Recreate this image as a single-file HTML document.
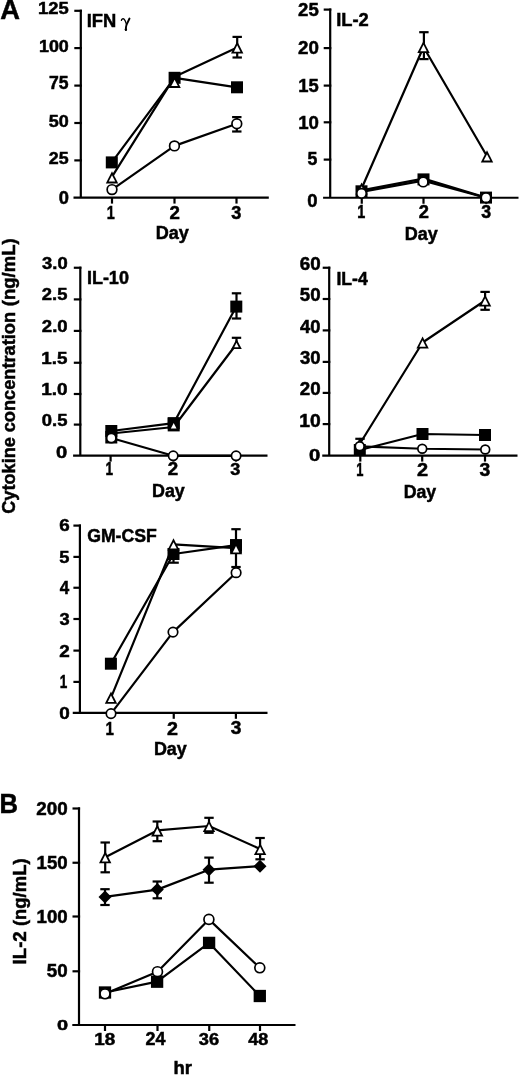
<!DOCTYPE html>
<html><head><meta charset="utf-8"><style>
html,body{margin:0;padding:0;background:#fff;}
svg{display:block;will-change:transform;}
text{fill:#000;stroke:#000;stroke-width:0.5px;}
</style></head><body>
<svg width="520" height="1076" viewBox="0 0 520 1076">
<rect width="520" height="1076" fill="#fff"/>
<text x="0.22" y="19.40" font-size="27.47" font-weight="bold" font-style="normal" font-family='"Liberation Sans", sans-serif' textLength="19.70" lengthAdjust="spacingAndGlyphs">A</text>
<line x1="80.80" y1="9.70" x2="80.80" y2="197.60" stroke="#000" stroke-width="2.2"/><line x1="73.50" y1="197.60" x2="268.80" y2="197.60" stroke="#000" stroke-width="2.2"/><line x1="74.30" y1="10.80" x2="81.90" y2="10.80" stroke="#000" stroke-width="2.2"/><line x1="74.30" y1="48.10" x2="81.90" y2="48.10" stroke="#000" stroke-width="2.2"/><line x1="74.30" y1="85.60" x2="81.90" y2="85.60" stroke="#000" stroke-width="2.2"/><line x1="74.30" y1="123.00" x2="81.90" y2="123.00" stroke="#000" stroke-width="2.2"/><line x1="74.30" y1="160.40" x2="81.90" y2="160.40" stroke="#000" stroke-width="2.2"/><line x1="112.00" y1="197.60" x2="112.00" y2="203.60" stroke="#000" stroke-width="2.2"/><line x1="174.50" y1="197.60" x2="174.50" y2="203.60" stroke="#000" stroke-width="2.2"/><line x1="236.50" y1="197.60" x2="236.50" y2="203.60" stroke="#000" stroke-width="2.2"/>
<text x="37.94" y="14.33" font-size="17.23" font-weight="bold" font-style="normal" font-family='"Liberation Sans", sans-serif' textLength="30.67" lengthAdjust="spacingAndGlyphs">125</text>
<text x="38.97" y="51.63" font-size="17.23" font-weight="bold" font-style="normal" font-family='"Liberation Sans", sans-serif' textLength="29.86" lengthAdjust="spacingAndGlyphs">100</text>
<text x="49.05" y="89.43" font-size="17.48" font-weight="bold" font-style="normal" font-family='"Liberation Sans", sans-serif' textLength="19.54" lengthAdjust="spacingAndGlyphs">75</text>
<text x="48.85" y="126.63" font-size="17.23" font-weight="bold" font-style="normal" font-family='"Liberation Sans", sans-serif' textLength="19.99" lengthAdjust="spacingAndGlyphs">50</text>
<text x="48.78" y="164.13" font-size="17.23" font-weight="bold" font-style="normal" font-family='"Liberation Sans", sans-serif' textLength="19.81" lengthAdjust="spacingAndGlyphs">25</text>
<text x="58.68" y="203.53" font-size="17.51" font-weight="bold" font-style="normal" font-family='"Liberation Sans", sans-serif' textLength="10.17" lengthAdjust="spacingAndGlyphs">0</text>
<text x="106.74" y="219.00" font-size="18.60" font-weight="bold" font-style="normal" font-family='"Liberation Sans", sans-serif' textLength="8.01" lengthAdjust="spacingAndGlyphs">1</text>
<text x="169.45" y="219.00" font-size="18.33" font-weight="bold" font-style="normal" font-family='"Liberation Sans", sans-serif' textLength="10.40" lengthAdjust="spacingAndGlyphs">2</text>
<text x="231.38" y="218.80" font-size="18.04" font-weight="bold" font-style="normal" font-family='"Liberation Sans", sans-serif' textLength="10.07" lengthAdjust="spacingAndGlyphs">3</text>
<text x="155.79" y="238.85" font-size="18.09" font-weight="bold" font-style="normal" font-family='"Liberation Sans", sans-serif' textLength="33.10" lengthAdjust="spacingAndGlyphs">Day</text>
<text x="86.67" y="26.60" font-size="18.60" font-weight="bold" font-style="normal" font-family='"Liberation Sans", sans-serif' textLength="29.56" lengthAdjust="spacingAndGlyphs">IFN</text>
<path d="M121.4,20.4 C121.6,18.9 123.1,18.2 124.2,19.2 C125.2,20.2 125.9,22.3 126.5,24.4" fill="none" stroke="#000" stroke-width="1.3" stroke-linecap="round"/>
<path d="M129.5,18.5 L126.6,24.6 C126.1,26.3 125.7,28.2 125.8,29.8" fill="none" stroke="#000" stroke-width="1.9" stroke-linecap="round"/>
<ellipse cx="125.9" cy="29.4" rx="1.15" ry="1.5" fill="#000"/>
<polyline points="111.80,162.40 174.60,77.80 237.00,87.30" fill="none" stroke="#000" stroke-width="2.2" stroke-linejoin="round"/>
<polyline points="111.60,177.30 174.60,76.80 237.20,47.40" fill="none" stroke="#000" stroke-width="2.2" stroke-linejoin="round"/>
<polyline points="112.00,189.60 174.45,145.90 236.80,123.80" fill="none" stroke="#000" stroke-width="2.2" stroke-linejoin="round"/>
<line x1="237.20" y1="36.90" x2="237.20" y2="57.50" stroke="#000" stroke-width="2.2"/><line x1="232.50" y1="36.90" x2="241.90" y2="36.90" stroke="#000" stroke-width="2.2"/><line x1="232.50" y1="57.50" x2="241.90" y2="57.50" stroke="#000" stroke-width="2.2"/>
<line x1="236.80" y1="117.10" x2="236.80" y2="131.50" stroke="#000" stroke-width="2.2"/><line x1="232.10" y1="117.10" x2="241.50" y2="117.10" stroke="#000" stroke-width="2.2"/><line x1="232.10" y1="131.50" x2="241.50" y2="131.50" stroke="#000" stroke-width="2.2"/>
<rect x="105.80" y="156.40" width="12.00" height="12.00" fill="#000"/>
<rect x="168.60" y="71.80" width="12.00" height="12.00" fill="#000"/>
<rect x="231.00" y="81.30" width="12.00" height="12.00" fill="#000"/>
<polygon points="112.00,171.20 118.20,183.40 105.80,183.40" fill="#000"/><polygon points="112.00,175.17 115.27,181.60 108.73,181.60" fill="#fff"/>
<polygon points="174.60,75.70 180.80,87.90 168.40,87.90" fill="#000"/><polygon points="174.60,79.67 177.87,86.10 171.33,86.10" fill="#fff"/>
<polygon points="237.20,41.30 243.40,53.50 231.00,53.50" fill="#000"/><polygon points="237.20,45.27 240.47,51.70 233.93,51.70" fill="#fff"/>
<circle cx="112.00" cy="189.60" r="4.85" fill="#fff" stroke="#000" stroke-width="1.7"/>
<circle cx="174.45" cy="145.90" r="4.85" fill="#fff" stroke="#000" stroke-width="1.7"/>
<circle cx="236.80" cy="123.80" r="4.85" fill="#fff" stroke="#000" stroke-width="1.7"/>
<line x1="330.20" y1="8.50" x2="330.20" y2="197.75" stroke="#000" stroke-width="2.2"/><line x1="323.10" y1="197.75" x2="518.50" y2="197.75" stroke="#000" stroke-width="2.2"/><line x1="323.70" y1="9.60" x2="331.30" y2="9.60" stroke="#000" stroke-width="2.2"/><line x1="323.70" y1="48.10" x2="331.30" y2="48.10" stroke="#000" stroke-width="2.2"/><line x1="323.70" y1="85.60" x2="331.30" y2="85.60" stroke="#000" stroke-width="2.2"/><line x1="323.70" y1="122.30" x2="331.30" y2="122.30" stroke="#000" stroke-width="2.2"/><line x1="323.70" y1="159.60" x2="331.30" y2="159.60" stroke="#000" stroke-width="2.2"/><line x1="361.75" y1="197.75" x2="361.75" y2="203.75" stroke="#000" stroke-width="2.2"/><line x1="423.50" y1="197.75" x2="423.50" y2="203.75" stroke="#000" stroke-width="2.2"/><line x1="486.25" y1="197.75" x2="486.25" y2="203.75" stroke="#000" stroke-width="2.2"/>
<text x="298.06" y="15.87" font-size="18.79" font-weight="bold" font-style="normal" font-family='"Liberation Sans", sans-serif' textLength="20.66" lengthAdjust="spacingAndGlyphs">25</text>
<text x="298.10" y="54.37" font-size="18.79" font-weight="bold" font-style="normal" font-family='"Liberation Sans", sans-serif' textLength="20.87" lengthAdjust="spacingAndGlyphs">20</text>
<text x="298.24" y="91.86" font-size="19.06" font-weight="bold" font-style="normal" font-family='"Liberation Sans", sans-serif' textLength="20.47" lengthAdjust="spacingAndGlyphs">15</text>
<text x="298.23" y="128.57" font-size="18.79" font-weight="bold" font-style="normal" font-family='"Liberation Sans", sans-serif' textLength="20.74" lengthAdjust="spacingAndGlyphs">10</text>
<text x="307.56" y="165.43" font-size="17.91" font-weight="bold" font-style="normal" font-family='"Liberation Sans", sans-serif' textLength="9.84" lengthAdjust="spacingAndGlyphs">5</text>
<text x="307.37" y="207.32" font-size="18.50" font-weight="bold" font-style="normal" font-family='"Liberation Sans", sans-serif' textLength="10.29" lengthAdjust="spacingAndGlyphs">0</text>
<text x="357.24" y="217.90" font-size="18.02" font-weight="bold" font-style="normal" font-family='"Liberation Sans", sans-serif' textLength="8.01" lengthAdjust="spacingAndGlyphs">1</text>
<text x="418.77" y="217.90" font-size="17.76" font-weight="bold" font-style="normal" font-family='"Liberation Sans", sans-serif' textLength="10.17" lengthAdjust="spacingAndGlyphs">2</text>
<text x="481.29" y="217.70" font-size="17.48" font-weight="bold" font-style="normal" font-family='"Liberation Sans", sans-serif' textLength="9.85" lengthAdjust="spacingAndGlyphs">3</text>
<text x="404.80" y="240.05" font-size="18.09" font-weight="bold" font-style="normal" font-family='"Liberation Sans", sans-serif' textLength="33.00" lengthAdjust="spacingAndGlyphs">Day</text>
<text x="336.17" y="26.20" font-size="18.19" font-weight="bold" font-style="normal" font-family='"Liberation Sans", sans-serif' textLength="32.56" lengthAdjust="spacingAndGlyphs">IL-2</text>
<polyline points="361.50,190.30 423.50,178.60 486.00,197.60" fill="none" stroke="#000" stroke-width="2.2" stroke-linejoin="round"/>
<polyline points="361.60,188.50 423.50,47.00 487.00,156.30" fill="none" stroke="#000" stroke-width="2.2" stroke-linejoin="round"/>
<polyline points="361.50,191.90 423.20,180.60 486.00,197.70" fill="none" stroke="#000" stroke-width="2.2" stroke-linejoin="round"/>
<line x1="423.90" y1="32.20" x2="423.90" y2="59.10" stroke="#000" stroke-width="2.2"/><line x1="419.20" y1="32.20" x2="428.60" y2="32.20" stroke="#000" stroke-width="2.2"/><line x1="419.20" y1="59.10" x2="428.60" y2="59.10" stroke="#000" stroke-width="2.2"/>
<rect x="355.50" y="185.30" width="12.00" height="12.00" fill="#000"/>
<rect x="417.50" y="173.40" width="12.00" height="12.00" fill="#000"/>
<rect x="480.00" y="191.60" width="12.00" height="12.00" fill="#000"/>
<polygon points="361.60,182.40 367.80,194.60 355.40,194.60" fill="#000"/><polygon points="361.60,186.37 364.87,192.80 358.33,192.80" fill="#fff"/>
<polygon points="423.50,40.90 429.70,53.10 417.30,53.10" fill="#000"/><polygon points="423.50,44.87 426.77,51.30 420.23,51.30" fill="#fff"/>
<polygon points="487.00,150.20 493.20,162.40 480.80,162.40" fill="#000"/><polygon points="487.00,154.17 490.27,160.60 483.73,160.60" fill="#fff"/>
<circle cx="361.50" cy="193.30" r="4.75" fill="#fff" stroke="#000" stroke-width="1.7"/>
<circle cx="423.20" cy="182.00" r="4.75" fill="#fff" stroke="#000" stroke-width="1.7"/>
<circle cx="486.00" cy="197.70" r="4.75" fill="#fff" stroke="#000" stroke-width="1.7"/>
<line x1="80.30" y1="266.65" x2="80.30" y2="455.60" stroke="#000" stroke-width="2.2"/><line x1="73.10" y1="455.60" x2="267.50" y2="455.60" stroke="#000" stroke-width="2.2"/><line x1="73.80" y1="267.75" x2="81.40" y2="267.75" stroke="#000" stroke-width="2.2"/><line x1="73.80" y1="299.40" x2="81.40" y2="299.40" stroke="#000" stroke-width="2.2"/><line x1="73.80" y1="330.90" x2="81.40" y2="330.90" stroke="#000" stroke-width="2.2"/><line x1="73.80" y1="362.75" x2="81.40" y2="362.75" stroke="#000" stroke-width="2.2"/><line x1="73.80" y1="394.00" x2="81.40" y2="394.00" stroke="#000" stroke-width="2.2"/><line x1="73.80" y1="424.60" x2="81.40" y2="424.60" stroke="#000" stroke-width="2.2"/><line x1="110.60" y1="455.60" x2="110.60" y2="461.60" stroke="#000" stroke-width="2.2"/><line x1="173.50" y1="455.60" x2="173.50" y2="461.60" stroke="#000" stroke-width="2.2"/><line x1="236.00" y1="455.60" x2="236.00" y2="461.60" stroke="#000" stroke-width="2.2"/>
<text x="42.08" y="268.76" font-size="16.63" font-weight="bold" font-style="normal" font-family='"Liberation Sans", sans-serif' textLength="25.58" lengthAdjust="spacingAndGlyphs">3.0</text>
<text x="41.86" y="300.44" font-size="16.67" font-weight="bold" font-style="normal" font-family='"Liberation Sans", sans-serif' textLength="25.55" lengthAdjust="spacingAndGlyphs">2.5</text>
<text x="41.86" y="331.94" font-size="16.67" font-weight="bold" font-style="normal" font-family='"Liberation Sans", sans-serif' textLength="25.80" lengthAdjust="spacingAndGlyphs">2.0</text>
<text x="41.32" y="363.78" font-size="16.91" font-weight="bold" font-style="normal" font-family='"Liberation Sans", sans-serif' textLength="26.11" lengthAdjust="spacingAndGlyphs">1.5</text>
<text x="41.31" y="395.04" font-size="16.67" font-weight="bold" font-style="normal" font-family='"Liberation Sans", sans-serif' textLength="26.37" lengthAdjust="spacingAndGlyphs">1.0</text>
<text x="41.77" y="425.64" font-size="16.67" font-weight="bold" font-style="normal" font-family='"Liberation Sans", sans-serif' textLength="25.64" lengthAdjust="spacingAndGlyphs">0.5</text>
<text x="56.10" y="458.33" font-size="17.30" font-weight="bold" font-style="normal" font-family='"Liberation Sans", sans-serif' textLength="11.23" lengthAdjust="spacingAndGlyphs">0</text>
<text x="105.40" y="475.30" font-size="17.88" font-weight="bold" font-style="normal" font-family='"Liberation Sans", sans-serif' textLength="7.53" lengthAdjust="spacingAndGlyphs">1</text>
<text x="167.65" y="475.30" font-size="17.62" font-weight="bold" font-style="normal" font-family='"Liberation Sans", sans-serif' textLength="10.40" lengthAdjust="spacingAndGlyphs">2</text>
<text x="230.33" y="475.11" font-size="17.34" font-weight="bold" font-style="normal" font-family='"Liberation Sans", sans-serif' textLength="10.07" lengthAdjust="spacingAndGlyphs">3</text>
<text x="152.00" y="496.68" font-size="18.43" font-weight="bold" font-style="normal" font-family='"Liberation Sans", sans-serif' textLength="32.79" lengthAdjust="spacingAndGlyphs">Day</text>
<text x="86.89" y="283.62" font-size="18.22" font-weight="bold" font-style="normal" font-family='"Liberation Sans", sans-serif' textLength="42.04" lengthAdjust="spacingAndGlyphs">IL-10</text>
<polyline points="111.30,431.00 173.70,423.20 236.30,306.60" fill="none" stroke="#000" stroke-width="2.2" stroke-linejoin="round"/>
<polyline points="111.30,433.50 173.70,427.00 236.50,344.00" fill="none" stroke="#000" stroke-width="2.2" stroke-linejoin="round"/>
<polyline points="111.30,438.00 173.20,455.80 236.10,455.80" fill="none" stroke="#000" stroke-width="2.2" stroke-linejoin="round"/>
<line x1="236.50" y1="293.30" x2="236.50" y2="318.50" stroke="#000" stroke-width="2.2"/><line x1="231.80" y1="293.30" x2="241.20" y2="293.30" stroke="#000" stroke-width="2.2"/><line x1="231.80" y1="318.50" x2="241.20" y2="318.50" stroke="#000" stroke-width="2.2"/>
<line x1="236.50" y1="337.80" x2="236.50" y2="344.00" stroke="#000" stroke-width="2.2"/><line x1="231.80" y1="337.80" x2="241.20" y2="337.80" stroke="#000" stroke-width="2.2"/>
<rect x="105.30" y="425.00" width="12.00" height="12.00" fill="#000"/>
<rect x="167.70" y="417.20" width="12.00" height="12.00" fill="#000"/>
<rect x="230.30" y="300.60" width="12.00" height="12.00" fill="#000"/>
<rect x="105.3" y="431" width="12" height="12.5" fill="#000"/>
<rect x="167.7" y="417.6" width="12" height="13.8" fill="#000"/>
<polygon points="173.7,423.0 176.5,428.4 170.9,428.4" fill="#fff"/>
<polygon points="236.50,339.00 241.75,349.00 231.25,349.00" fill="#000"/><polygon points="236.50,342.87 238.77,347.20 234.23,347.20" fill="#fff"/>
<circle cx="111.30" cy="438.00" r="4.65" fill="#fff" stroke="#000" stroke-width="1.7"/>
<circle cx="173.20" cy="455.80" r="4.65" fill="#fff" stroke="#000" stroke-width="1.7"/>
<circle cx="236.10" cy="455.80" r="4.65" fill="#fff" stroke="#000" stroke-width="1.7"/>
<line x1="329.20" y1="266.65" x2="329.20" y2="455.60" stroke="#000" stroke-width="2.2"/><line x1="322.25" y1="455.60" x2="517.50" y2="455.60" stroke="#000" stroke-width="2.2"/><line x1="322.70" y1="267.75" x2="330.30" y2="267.75" stroke="#000" stroke-width="2.2"/><line x1="322.70" y1="299.00" x2="330.30" y2="299.00" stroke="#000" stroke-width="2.2"/><line x1="322.70" y1="330.40" x2="330.30" y2="330.40" stroke="#000" stroke-width="2.2"/><line x1="322.70" y1="361.90" x2="330.30" y2="361.90" stroke="#000" stroke-width="2.2"/><line x1="322.70" y1="392.90" x2="330.30" y2="392.90" stroke="#000" stroke-width="2.2"/><line x1="322.70" y1="424.10" x2="330.30" y2="424.10" stroke="#000" stroke-width="2.2"/><line x1="360.30" y1="455.60" x2="360.30" y2="461.60" stroke="#000" stroke-width="2.2"/><line x1="422.20" y1="455.60" x2="422.20" y2="461.60" stroke="#000" stroke-width="2.2"/><line x1="485.00" y1="455.60" x2="485.00" y2="461.60" stroke="#000" stroke-width="2.2"/>
<text x="299.71" y="270.18" font-size="17.51" font-weight="bold" font-style="normal" font-family='"Liberation Sans", sans-serif' textLength="20.86" lengthAdjust="spacingAndGlyphs">60</text>
<text x="299.83" y="301.43" font-size="17.51" font-weight="bold" font-style="normal" font-family='"Liberation Sans", sans-serif' textLength="20.74" lengthAdjust="spacingAndGlyphs">50</text>
<text x="300.12" y="332.83" font-size="17.51" font-weight="bold" font-style="normal" font-family='"Liberation Sans", sans-serif' textLength="20.43" lengthAdjust="spacingAndGlyphs">40</text>
<text x="299.98" y="364.30" font-size="17.48" font-weight="bold" font-style="normal" font-family='"Liberation Sans", sans-serif' textLength="20.58" lengthAdjust="spacingAndGlyphs">30</text>
<text x="299.75" y="395.33" font-size="17.51" font-weight="bold" font-style="normal" font-family='"Liberation Sans", sans-serif' textLength="20.82" lengthAdjust="spacingAndGlyphs">20</text>
<text x="299.19" y="426.53" font-size="17.51" font-weight="bold" font-style="normal" font-family='"Liberation Sans", sans-serif' textLength="21.40" lengthAdjust="spacingAndGlyphs">10</text>
<text x="308.95" y="461.09" font-size="15.89" font-weight="bold" font-style="normal" font-family='"Liberation Sans", sans-serif' textLength="11.28" lengthAdjust="spacingAndGlyphs">0</text>
<text x="356.29" y="476.20" font-size="18.31" font-weight="bold" font-style="normal" font-family='"Liberation Sans", sans-serif' textLength="7.17" lengthAdjust="spacingAndGlyphs">1</text>
<text x="417.01" y="476.20" font-size="18.05" font-weight="bold" font-style="normal" font-family='"Liberation Sans", sans-serif' textLength="11.09" lengthAdjust="spacingAndGlyphs">2</text>
<text x="479.56" y="476.00" font-size="17.76" font-weight="bold" font-style="normal" font-family='"Liberation Sans", sans-serif' textLength="10.74" lengthAdjust="spacingAndGlyphs">3</text>
<text x="403.72" y="497.75" font-size="18.09" font-weight="bold" font-style="normal" font-family='"Liberation Sans", sans-serif' textLength="32.48" lengthAdjust="spacingAndGlyphs">Day</text>
<text x="336.42" y="284.60" font-size="19.04" font-weight="bold" font-style="normal" font-family='"Liberation Sans", sans-serif' textLength="31.38" lengthAdjust="spacingAndGlyphs">IL-4</text>
<polyline points="359.80,450.00 422.50,434.00 485.00,435.00" fill="none" stroke="#000" stroke-width="2.2" stroke-linejoin="round"/>
<polyline points="360.00,443.50 422.60,342.50 485.10,300.50" fill="none" stroke="#000" stroke-width="2.2" stroke-linejoin="round"/>
<polyline points="359.70,446.30 422.25,448.75 485.25,449.50" fill="none" stroke="#000" stroke-width="2.2" stroke-linejoin="round"/>
<line x1="485.10" y1="291.90" x2="485.10" y2="309.80" stroke="#000" stroke-width="2.2"/><line x1="480.40" y1="291.90" x2="489.80" y2="291.90" stroke="#000" stroke-width="2.2"/><line x1="480.40" y1="309.80" x2="489.80" y2="309.80" stroke="#000" stroke-width="2.2"/>
<line x1="360.00" y1="438.80" x2="360.00" y2="443.50" stroke="#000" stroke-width="2.2"/><line x1="355.30" y1="438.80" x2="364.70" y2="438.80" stroke="#000" stroke-width="2.2"/>
<rect x="353.80" y="444.00" width="12.00" height="12.00" fill="#000"/>
<rect x="416.50" y="428.00" width="12.00" height="12.00" fill="#000"/>
<rect x="479.00" y="429.00" width="12.00" height="12.00" fill="#000"/>
<polygon points="360.00,437.40 366.20,449.60 353.80,449.60" fill="#000"/><polygon points="360.00,441.37 363.27,447.80 356.73,447.80" fill="#fff"/>
<polygon points="422.60,336.40 428.80,348.60 416.40,348.60" fill="#000"/><polygon points="422.60,340.37 425.87,346.80 419.33,346.80" fill="#fff"/>
<polygon points="485.10,294.40 491.30,306.60 478.90,306.60" fill="#000"/><polygon points="485.10,298.37 488.37,304.80 481.83,304.80" fill="#fff"/>
<circle cx="359.70" cy="446.30" r="4.40" fill="#fff" stroke="#000" stroke-width="1.7"/>
<circle cx="422.25" cy="448.75" r="4.40" fill="#fff" stroke="#000" stroke-width="1.7"/>
<circle cx="485.25" cy="449.50" r="4.40" fill="#fff" stroke="#000" stroke-width="1.7"/>
<line x1="79.90" y1="524.50" x2="79.90" y2="712.80" stroke="#000" stroke-width="2.2"/><line x1="72.75" y1="712.80" x2="267.50" y2="712.80" stroke="#000" stroke-width="2.2"/><line x1="73.40" y1="525.60" x2="81.00" y2="525.60" stroke="#000" stroke-width="2.2"/><line x1="73.40" y1="556.90" x2="81.00" y2="556.90" stroke="#000" stroke-width="2.2"/><line x1="73.40" y1="587.75" x2="81.00" y2="587.75" stroke="#000" stroke-width="2.2"/><line x1="73.40" y1="619.00" x2="81.00" y2="619.00" stroke="#000" stroke-width="2.2"/><line x1="73.40" y1="650.60" x2="81.00" y2="650.60" stroke="#000" stroke-width="2.2"/><line x1="73.40" y1="681.90" x2="81.00" y2="681.90" stroke="#000" stroke-width="2.2"/><line x1="110.90" y1="712.80" x2="110.90" y2="718.80" stroke="#000" stroke-width="2.2"/><line x1="173.75" y1="712.80" x2="173.75" y2="718.80" stroke="#000" stroke-width="2.2"/><line x1="235.90" y1="712.80" x2="235.90" y2="718.80" stroke="#000" stroke-width="2.2"/>
<text x="59.21" y="531.48" font-size="17.09" font-weight="bold" font-style="normal" font-family='"Liberation Sans", sans-serif' textLength="10.47" lengthAdjust="spacingAndGlyphs">6</text>
<text x="59.34" y="562.78" font-size="17.34" font-weight="bold" font-style="normal" font-family='"Liberation Sans", sans-serif' textLength="10.17" lengthAdjust="spacingAndGlyphs">5</text>
<text x="59.64" y="593.80" font-size="17.59" font-weight="bold" font-style="normal" font-family='"Liberation Sans", sans-serif' textLength="9.45" lengthAdjust="spacingAndGlyphs">4</text>
<text x="59.48" y="624.86" font-size="17.05" font-weight="bold" font-style="normal" font-family='"Liberation Sans", sans-serif' textLength="10.18" lengthAdjust="spacingAndGlyphs">3</text>
<text x="59.24" y="656.65" font-size="17.33" font-weight="bold" font-style="normal" font-family='"Liberation Sans", sans-serif' textLength="10.51" lengthAdjust="spacingAndGlyphs">2</text>
<text x="59.75" y="687.95" font-size="17.59" font-weight="bold" font-style="normal" font-family='"Liberation Sans", sans-serif' textLength="7.53" lengthAdjust="spacingAndGlyphs">1</text>
<text x="59.25" y="718.59" font-size="16.74" font-weight="bold" font-style="normal" font-family='"Liberation Sans", sans-serif' textLength="10.52" lengthAdjust="spacingAndGlyphs">0</text>
<text x="105.55" y="734.50" font-size="18.90" font-weight="bold" font-style="normal" font-family='"Liberation Sans", sans-serif' textLength="8.37" lengthAdjust="spacingAndGlyphs">1</text>
<text x="167.12" y="734.50" font-size="18.62" font-weight="bold" font-style="normal" font-family='"Liberation Sans", sans-serif' textLength="10.97" lengthAdjust="spacingAndGlyphs">2</text>
<text x="230.71" y="734.29" font-size="18.32" font-weight="bold" font-style="normal" font-family='"Liberation Sans", sans-serif' textLength="10.63" lengthAdjust="spacingAndGlyphs">3</text>
<text x="153.90" y="754.92" font-size="18.20" font-weight="bold" font-style="normal" font-family='"Liberation Sans", sans-serif' textLength="32.90" lengthAdjust="spacingAndGlyphs">Day</text>
<text x="87.18" y="541.72" font-size="18.08" font-weight="bold" font-style="normal" font-family='"Liberation Sans", sans-serif' textLength="69.67" lengthAdjust="spacingAndGlyphs">GM-CSF</text>
<polyline points="110.90,663.70 173.50,554.00 236.00,545.20" fill="none" stroke="#000" stroke-width="2.2" stroke-linejoin="round"/>
<polyline points="111.00,697.60 173.50,544.30 236.00,548.20" fill="none" stroke="#000" stroke-width="2.2" stroke-linejoin="round"/>
<polyline points="111.00,713.60 173.00,632.10 236.10,572.70" fill="none" stroke="#000" stroke-width="2.2" stroke-linejoin="round"/>
<line x1="236.00" y1="529.20" x2="236.00" y2="567.00" stroke="#000" stroke-width="2.2"/><line x1="231.30" y1="529.20" x2="240.70" y2="529.20" stroke="#000" stroke-width="2.2"/><line x1="231.30" y1="567.00" x2="240.70" y2="567.00" stroke="#000" stroke-width="2.2"/>
<line x1="169.00" y1="562.70" x2="178.80" y2="562.70" stroke="#000" stroke-width="2.2"/>
<line x1="173.50" y1="554.00" x2="173.50" y2="562.70" stroke="#000" stroke-width="2.2"/>
<rect x="104.90" y="657.70" width="12.00" height="12.00" fill="#000"/>
<rect x="167.50" y="548.00" width="12.00" height="12.00" fill="#000"/>
<rect x="230.00" y="539.20" width="12.00" height="12.00" fill="#000"/>
<rect x="230.1" y="539.3" width="11.8" height="13.8" fill="#000"/>
<polygon points="111.00,691.50 117.20,703.70 104.80,703.70" fill="#000"/><polygon points="111.00,695.47 114.27,701.90 107.73,701.90" fill="#fff"/>
<polygon points="173.50,538.20 179.70,550.40 167.30,550.40" fill="#000"/><polygon points="173.50,542.17 176.77,548.60 170.23,548.60" fill="#fff"/>
<polygon points="236.00,542.10 242.20,554.30 229.80,554.30" fill="#000"/><polygon points="236.00,546.07 239.27,552.50 232.73,552.50" fill="#fff"/>
<circle cx="111.00" cy="713.60" r="4.75" fill="#fff" stroke="#000" stroke-width="1.7"/>
<circle cx="173.00" cy="632.10" r="4.75" fill="#fff" stroke="#000" stroke-width="1.7"/>
<circle cx="236.10" cy="572.70" r="4.75" fill="#fff" stroke="#000" stroke-width="1.7"/>
<text transform="translate(14.90,513.74) rotate(-90)" x="0" y="0" font-size="18.47" font-weight="bold" font-style="normal" font-family='"Liberation Sans", sans-serif' textLength="76.67" lengthAdjust="spacingAndGlyphs">Cytokine</text>
<text transform="translate(14.90,432.31) rotate(-90)" x="0" y="0" font-size="18.47" font-weight="bold" font-style="normal" font-family='"Liberation Sans", sans-serif' textLength="120.44" lengthAdjust="spacingAndGlyphs">concentration</text>
<text transform="translate(14.90,306.22) rotate(-90)" x="0" y="0" font-size="18.47" font-weight="bold" font-style="normal" font-family='"Liberation Sans", sans-serif' textLength="67.95" lengthAdjust="spacingAndGlyphs">(ng/mL)</text>
<text x="-0.61" y="813.00" font-size="27.18" font-weight="bold" font-style="normal" font-family='"Liberation Sans", sans-serif' textLength="18.47" lengthAdjust="spacingAndGlyphs">B</text>
<line x1="79.00" y1="807.40" x2="79.00" y2="1025.00" stroke="#000" stroke-width="2.2"/><line x1="72.30" y1="1025.00" x2="295.50" y2="1025.00" stroke="#000" stroke-width="2.2"/><line x1="72.50" y1="808.50" x2="80.10" y2="808.50" stroke="#000" stroke-width="2.2"/><line x1="72.50" y1="862.75" x2="80.10" y2="862.75" stroke="#000" stroke-width="2.2"/><line x1="72.50" y1="916.50" x2="80.10" y2="916.50" stroke="#000" stroke-width="2.2"/><line x1="72.50" y1="971.30" x2="80.10" y2="971.30" stroke="#000" stroke-width="2.2"/><line x1="105.00" y1="1025.00" x2="105.00" y2="1031.00" stroke="#000" stroke-width="2.2"/><line x1="157.50" y1="1025.00" x2="157.50" y2="1031.00" stroke="#000" stroke-width="2.2"/><line x1="209.25" y1="1025.00" x2="209.25" y2="1031.00" stroke="#000" stroke-width="2.2"/><line x1="260.00" y1="1025.00" x2="260.00" y2="1031.00" stroke="#000" stroke-width="2.2"/>
<text x="36.25" y="814.67" font-size="17.94" font-weight="bold" font-style="normal" font-family='"Liberation Sans", sans-serif' textLength="31.43" lengthAdjust="spacingAndGlyphs">200</text>
<text x="36.58" y="868.92" font-size="17.94" font-weight="bold" font-style="normal" font-family='"Liberation Sans", sans-serif' textLength="31.09" lengthAdjust="spacingAndGlyphs">150</text>
<text x="36.52" y="922.67" font-size="17.94" font-weight="bold" font-style="normal" font-family='"Liberation Sans", sans-serif' textLength="31.14" lengthAdjust="spacingAndGlyphs">100</text>
<text x="46.82" y="977.47" font-size="17.94" font-weight="bold" font-style="normal" font-family='"Liberation Sans", sans-serif' textLength="20.85" lengthAdjust="spacingAndGlyphs">50</text>
<text x="57.11" y="1029.65" font-size="15.25" font-weight="bold" font-style="normal" font-family='"Liberation Sans", sans-serif' textLength="11.11" lengthAdjust="spacingAndGlyphs">0</text>
<text x="94.21" y="1045.23" font-size="17.37" font-weight="bold" font-style="normal" font-family='"Liberation Sans", sans-serif' textLength="20.97" lengthAdjust="spacingAndGlyphs">18</text>
<text x="145.58" y="1045.40" font-size="17.62" font-weight="bold" font-style="normal" font-family='"Liberation Sans", sans-serif' textLength="19.92" lengthAdjust="spacingAndGlyphs">24</text>
<text x="198.83" y="1045.21" font-size="17.34" font-weight="bold" font-style="normal" font-family='"Liberation Sans", sans-serif' textLength="20.28" lengthAdjust="spacingAndGlyphs">36</text>
<text x="248.18" y="1045.23" font-size="17.37" font-weight="bold" font-style="normal" font-family='"Liberation Sans", sans-serif' textLength="20.03" lengthAdjust="spacingAndGlyphs">48</text>
<text x="173.51" y="1074.30" font-size="17.80" font-weight="bold" font-style="normal" font-family='"Liberation Sans", sans-serif' textLength="18.47" lengthAdjust="spacingAndGlyphs">hr</text>
<text transform="translate(25.95,964.45) rotate(-90)" x="0" y="0" font-size="18.15" font-weight="bold" font-style="normal" font-family='"Liberation Sans", sans-serif' textLength="33.20" lengthAdjust="spacingAndGlyphs">IL-2</text>
<text transform="translate(25.95,926.02) rotate(-90)" x="0" y="0" font-size="18.15" font-weight="bold" font-style="normal" font-family='"Liberation Sans", sans-serif' textLength="67.54" lengthAdjust="spacingAndGlyphs">(ng/mL)</text>
<polyline points="105.20,857.20 157.30,830.40 209.00,826.00 260.10,849.00" fill="none" stroke="#000" stroke-width="2.2" stroke-linejoin="round"/>
<polyline points="105.00,896.90 157.30,889.60 209.00,869.70 260.00,866.20" fill="none" stroke="#000" stroke-width="2.2" stroke-linejoin="round"/>
<polyline points="105.00,993.80 157.50,971.70 208.90,919.40 259.80,967.80" fill="none" stroke="#000" stroke-width="2.2" stroke-linejoin="round"/>
<polyline points="105.00,992.50 157.10,981.70 209.10,942.90 259.80,996.00" fill="none" stroke="#000" stroke-width="2.2" stroke-linejoin="round"/>
<line x1="105.20" y1="842.50" x2="105.20" y2="872.30" stroke="#000" stroke-width="2.2"/><line x1="100.50" y1="842.50" x2="109.90" y2="842.50" stroke="#000" stroke-width="2.2"/><line x1="100.50" y1="872.30" x2="109.90" y2="872.30" stroke="#000" stroke-width="2.2"/>
<line x1="157.30" y1="821.50" x2="157.30" y2="841.20" stroke="#000" stroke-width="2.2"/><line x1="152.60" y1="821.50" x2="162.00" y2="821.50" stroke="#000" stroke-width="2.2"/><line x1="152.60" y1="841.20" x2="162.00" y2="841.20" stroke="#000" stroke-width="2.2"/>
<line x1="209.00" y1="817.80" x2="209.00" y2="832.80" stroke="#000" stroke-width="2.2"/><line x1="204.30" y1="817.80" x2="213.70" y2="817.80" stroke="#000" stroke-width="2.2"/><line x1="204.30" y1="832.80" x2="213.70" y2="832.80" stroke="#000" stroke-width="2.2"/>
<line x1="260.10" y1="838.00" x2="260.10" y2="859.30" stroke="#000" stroke-width="2.2"/><line x1="255.40" y1="838.00" x2="264.80" y2="838.00" stroke="#000" stroke-width="2.2"/><line x1="255.40" y1="859.30" x2="264.80" y2="859.30" stroke="#000" stroke-width="2.2"/>
<line x1="105.00" y1="889.20" x2="105.00" y2="905.00" stroke="#000" stroke-width="2.2"/><line x1="100.30" y1="889.20" x2="109.70" y2="889.20" stroke="#000" stroke-width="2.2"/><line x1="100.30" y1="905.00" x2="109.70" y2="905.00" stroke="#000" stroke-width="2.2"/>
<line x1="157.30" y1="881.50" x2="157.30" y2="898.30" stroke="#000" stroke-width="2.2"/><line x1="152.60" y1="881.50" x2="162.00" y2="881.50" stroke="#000" stroke-width="2.2"/><line x1="152.60" y1="898.30" x2="162.00" y2="898.30" stroke="#000" stroke-width="2.2"/>
<line x1="209.00" y1="857.60" x2="209.00" y2="882.70" stroke="#000" stroke-width="2.2"/><line x1="204.30" y1="857.60" x2="213.70" y2="857.60" stroke="#000" stroke-width="2.2"/><line x1="204.30" y1="882.70" x2="213.70" y2="882.70" stroke="#000" stroke-width="2.2"/>
<rect x="98.85" y="986.35" width="12.30" height="12.30" fill="#000"/>
<rect x="150.95" y="975.55" width="12.30" height="12.30" fill="#000"/>
<rect x="202.95" y="936.75" width="12.30" height="12.30" fill="#000"/>
<rect x="253.65" y="989.85" width="12.30" height="12.30" fill="#000"/>
<circle cx="105.00" cy="993.80" r="4.95" fill="#fff" stroke="#000" stroke-width="1.7"/>
<circle cx="157.50" cy="971.70" r="4.95" fill="#fff" stroke="#000" stroke-width="1.7"/>
<circle cx="208.90" cy="919.40" r="4.95" fill="#fff" stroke="#000" stroke-width="1.7"/>
<circle cx="259.80" cy="967.80" r="4.95" fill="#fff" stroke="#000" stroke-width="1.7"/>
<polygon points="105.20,851.10 111.40,863.30 99.00,863.30" fill="#000"/><polygon points="105.20,855.07 108.47,861.50 101.93,861.50" fill="#fff"/>
<polygon points="157.30,824.30 163.50,836.50 151.10,836.50" fill="#000"/><polygon points="157.30,828.27 160.57,834.70 154.03,834.70" fill="#fff"/>
<polygon points="209.00,819.90 215.20,832.10 202.80,832.10" fill="#000"/><polygon points="209.00,823.87 212.27,830.30 205.73,830.30" fill="#fff"/>
<polygon points="260.10,842.90 266.30,855.10 253.90,855.10" fill="#000"/><polygon points="260.10,846.87 263.37,853.30 256.83,853.30" fill="#fff"/>
<polygon points="105.00,890.40 111.50,896.90 105.00,903.40 98.50,896.90" fill="#000"/>
<polygon points="157.30,883.10 163.80,889.60 157.30,896.10 150.80,889.60" fill="#000"/>
<polygon points="209.00,863.20 215.50,869.70 209.00,876.20 202.50,869.70" fill="#000"/>
<polygon points="260.00,859.70 266.50,866.20 260.00,872.70 253.50,866.20" fill="#000"/>
</svg>
</body></html>
